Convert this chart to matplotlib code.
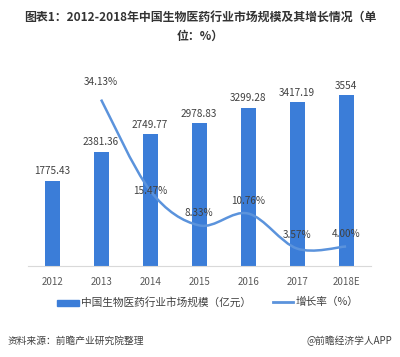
import numpy as np
import matplotlib.pyplot as plt
from matplotlib.path import Path
from matplotlib import patches

plt.rcParams['font.family'] = ['Noto Sans CJK SC', 'DejaVu Sans']

years = ['2012', '2013', '2014', '2015', '2016', '2017', '2018E']
scale = [1775.43, 2381.36, 2749.77, 2978.83, 3299.28, 3417.19, 3554]
scale_labels = ['1775.43', '2381.36', '2749.77', '2978.83', '3299.28', '3417.19', '3554']
growth = [34.13, 15.47, 8.33, 10.76, 3.57, 4.00]   # 2013-2018E
growth_labels = ['34.13%', '15.47%', '8.33%', '10.76%', '3.57%', '4.00%']

bar_color = '#3b7dd8'
line_color = '#5b93dc'

fig = plt.figure(figsize=(4, 3.57), dpi=100)
ax = fig.add_axes([0.069, 0.255, 0.8575, 0.538])
x = np.arange(len(years))
ax.bar(x, scale, width=0.31, color=bar_color, zorder=2)
for xi, v, s in zip(x, scale, scale_labels):
    ax.text(xi, v + 90, s, ha='center', va='bottom', fontsize=7.2, color='#404040')
ax.set_xlim(-0.5, 6.5)
ax.set_ylim(0, 4000)
ax.set_xticks(x)
ax.set_xticklabels(years, fontsize=7, color='#595959')
ax.tick_params(axis='x', length=0, pad=8)
ax.set_yticks([])
for sp in ['top', 'right', 'left']:
    ax.spines[sp].set_visible(False)
ax.spines['bottom'].set_color('#d9d9d9')

ax2 = ax.twinx()
ax2.set_ylim(0, 39.4)
ax2.set_yticks([])
for sp in ax2.spines.values():
    sp.set_visible(False)

# smoothed line (cubic bezier through the points)
gx = x[1:]
gy = np.array(growth)
verts = [(gx[0], gy[0])]
codes = [Path.MOVETO]
n = len(gx)
t = 1 / 6
for i in range(n - 1):
    p0 = (gx[max(i - 1, 0)], gy[max(i - 1, 0)])
    p1 = (gx[i], gy[i])
    p2 = (gx[i + 1], gy[i + 1])
    p3 = (gx[min(i + 2, n - 1)], gy[min(i + 2, n - 1)])
    c1 = (p1[0] + (p2[0] - p0[0]) * t, p1[1] + (p2[1] - p0[1]) * t)
    c2 = (p2[0] - (p3[0] - p1[0]) * t, p2[1] - (p3[1] - p1[1]) * t)
    verts += [c1, c2, p2]
    codes += [Path.CURVE4] * 3
ax2.add_patch(patches.PathPatch(Path(verts, codes), fill=False,
                                edgecolor=line_color, lw=1.8, zorder=3))

offsets = [2.6, 0, 1.6, 1.6, 1.8, 1.6]
for xi, v, s, o in zip(gx, gy, growth_labels, offsets):
    ax2.text(xi, v + o, s, ha='center', va='bottom' if o else 'center',
             fontsize=7.2, color='#404040', zorder=4)

# legend
fig.patches.append(patches.Rectangle((57 / 400, 1 - 306 / 357), 22 / 400, 6 / 357,
                                     transform=fig.transFigure, color=bar_color))
fig.text(81 / 400, 1 - 302 / 357, '中国生物医药行业市场规模（亿元）', fontsize=7.7,
         color='#404040', va='center')
fig.add_artist(plt.Line2D([273 / 400, 293 / 400], [1 - 302 / 357, 1 - 302 / 357],
                          color=line_color, lw=2, transform=fig.transFigure))
fig.text(296 / 400, 1 - 302 / 357, '增长率（%）', fontsize=7.7, color='#404040', va='center')

fig.text(0.5, 1 - 17 / 357, '图表1：2012-2018年中国生物医药行业市场规模及其增长情况（单',
         ha='center', va='center', fontsize=8.6, fontweight='bold', color='#333333')
fig.text(0.5, 1 - 36 / 357, '位：%）', ha='center', va='center', fontsize=8.6,
         fontweight='bold', color='#333333')

fig.text(8 / 400, 1 - 341 / 357, '资料来源：前瞻产业研究院整理', fontsize=7,
         style='italic', color='#404040', va='center')
fig.text(392 / 400, 1 - 341 / 357, '@前瞻经济学人APP', fontsize=7, ha='right',
         color='#404040', va='center')

fig.savefig('out.png', dpi=100)
